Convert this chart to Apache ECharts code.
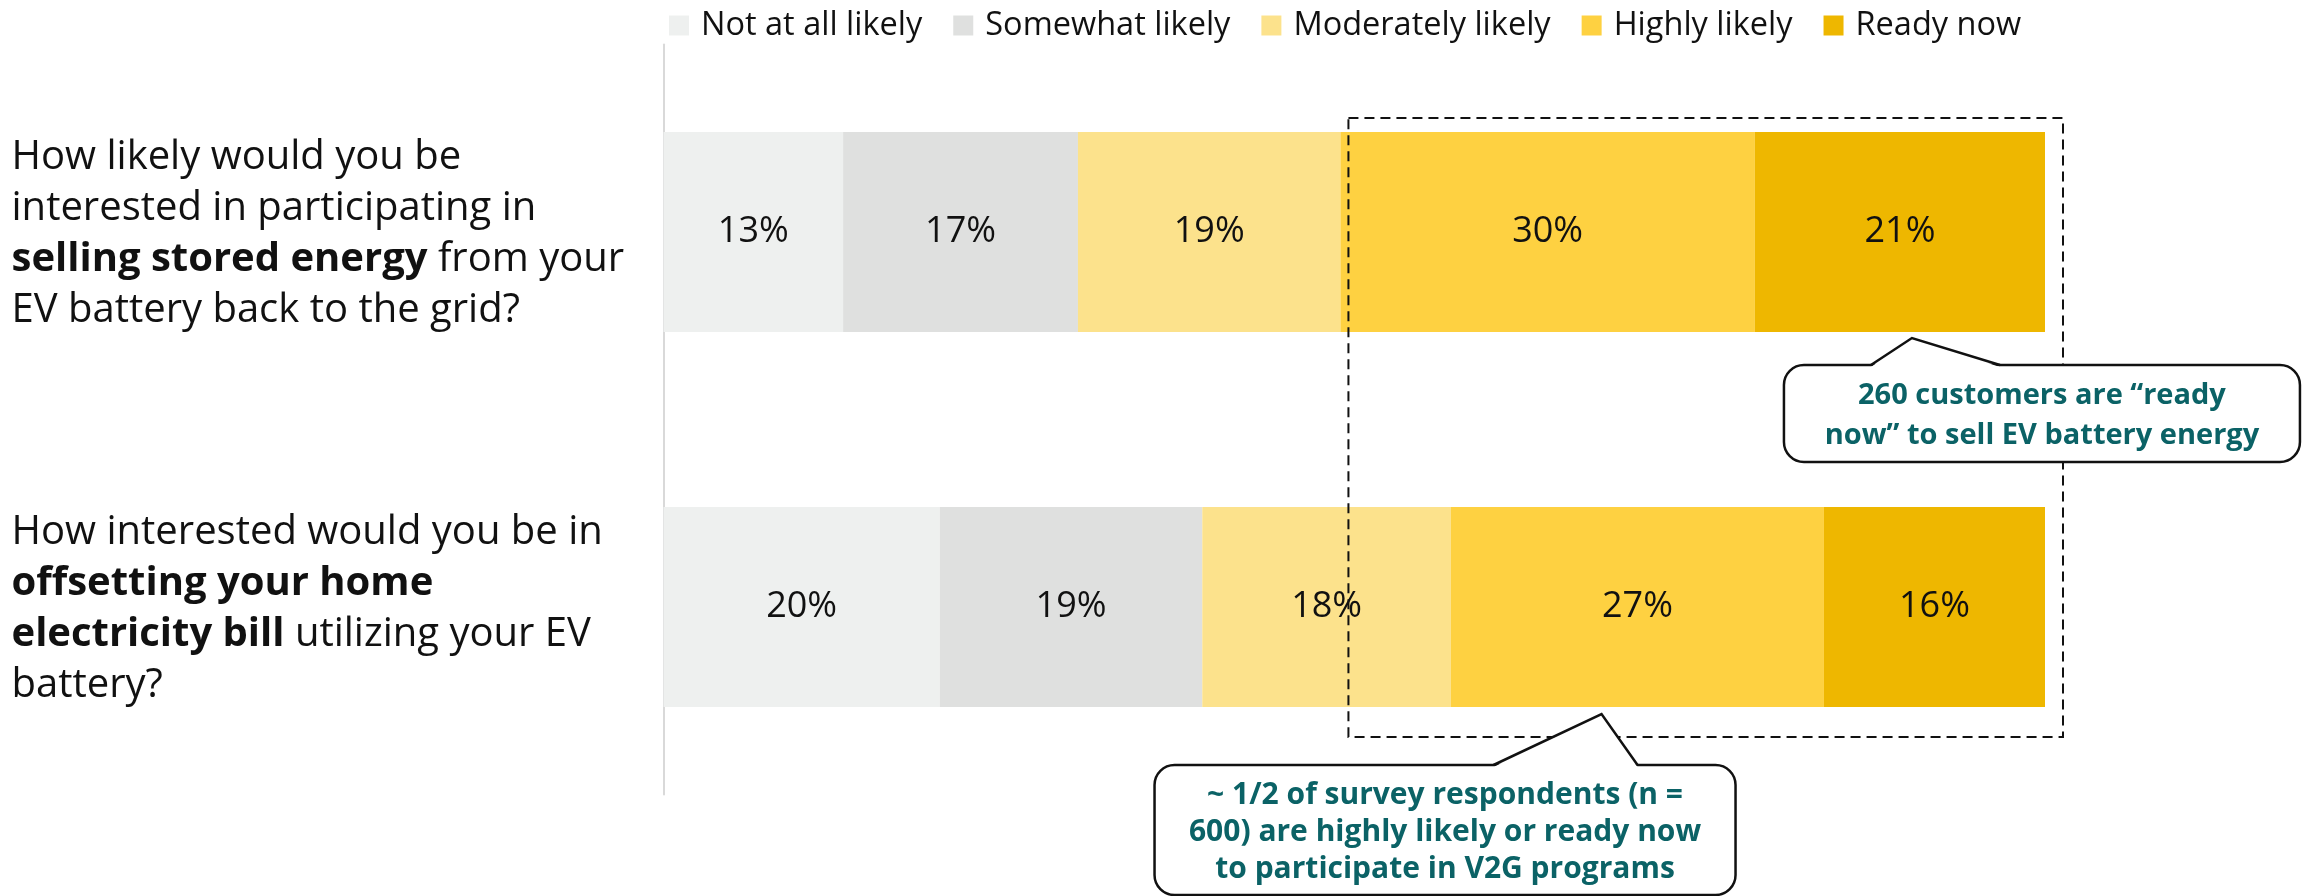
<!DOCTYPE html>
<html><head><meta charset="utf-8">
<script src="https://cdn.jsdelivr.net/npm/echarts@6.0.0/dist/echarts.min.js"></script>
<style>html,body{margin:0;padding:0;background:#fff}#c{width:2306px;height:896px}</style>
</head><body><div id="c"></div>
<script>
const categories = [
  'How likely would you be\ninterested in participating in\n{b|selling stored energy} from your\nEV battery back to the grid?',
  'How interested would you be in\n{b|offsetting your home}\n{b|electricity bill} utilizing your EV\nbattery?'
];
const seriesNames = ['Not at all likely', 'Somewhat likely', 'Moderately likely', 'Highly likely', 'Ready now'];
const notAtAll   = [13, 20];
const somewhat   = [17, 19];
const moderately = [19, 18];
const highly     = [30, 27];
const readyNow   = [21, 16];
const colors = ['#EEF0EF', '#DFE0DF', '#FCE28C', '#FED141', '#EEB700'];
const callout1Text = ['260 customers are \u201cready', 'now\u201d to sell EV battery energy'];
const callout2Text = ['~ 1/2 of survey respondents (n =', '600) are highly likely or ready now', 'to participate in V2G programs'];

const FONT = '"Open Sans", "Noto Sans", sans-serif';
const seriesData = [notAtAll, somewhat, moderately, highly, readyNow];

const chart = echarts.init(document.getElementById('c'), null, {renderer: 'canvas'});
const option = {
  animation: false,
  backgroundColor: '#fff',
  color: colors,
  textStyle: {fontFamily: FONT},
  legend: {
    left: 669, top: 9, padding: 0,
    itemWidth: 20, itemHeight: 20, itemGap: 31,
    icon: 'rect', selectedMode: false,
    textStyle: {fontSize: 32.5, color: '#111', fontFamily: FONT, padding: [0, 0, 0, 7]},
    data: seriesNames
  },
  grid: {left: 663.5, right: 261, top: 44.5, bottom: 101.5, containLabel: false},
  xAxis: {type: 'value', min: 0, max: 100, show: false},
  yAxis: {
    type: 'category', data: categories, inverse: true,
    axisTick: {show: false},
    axisLine: {show: true, lineStyle: {color: '#d9d9d9', width: 2}},
    axisLabel: {
      align: 'left', margin: 652, color: '#111', fontSize: 40, lineHeight: 51, fontFamily: FONT,
      padding: [4, 0, 0, 0],
      rich: {b: {fontWeight: 'bold', fontSize: 40, lineHeight: 51, color: '#111', fontFamily: FONT}}
    }
  },
  series: seriesNames.map((n, i) => ({
    name: n, type: 'bar', stack: 'total', barWidth: 200,
    data: seriesData[i],
    itemStyle: {color: colors[i]},
    label: {show: true, position: 'inside', formatter: '{c}%', color: '#111', fontSize: 36, fontFamily: FONT}
  }))
};
chart.setOption(option);

function px(v, cat) { return chart.convertToPixel({gridIndex: 0}, [v, cat]); }
const half = 100;
const c0 = px(0, 0)[1], c1 = px(0, 1)[1];
const boxL = px(49, 0)[0] + 8, boxR = px(100, 0)[0] + 18;
const boxT = c0 - half - 14, boxB = c1 + half + 30;

function callout(tipX, tipY, left, top, right, bottom, baseL, baseR, lines, lh, fs) {
  return [
    {type: 'rect', z: 100, shape: {x: left, y: top, width: right - left, height: bottom - top, r: 20},
     style: {fill: '#fff', stroke: '#111', lineWidth: 2.5}},
    {type: 'polygon', z: 101, shape: {points: [[baseL, top + 2], [tipX, tipY], [baseR, top + 2]]},
     style: {fill: '#fff', stroke: null}},
    {type: 'polyline', z: 102, shape: {points: [[baseL, top], [tipX, tipY], [baseR, top]]},
     style: {fill: null, stroke: '#111', lineWidth: 2.5}},
    {type: 'text', z: 103, style: {text: lines.join('\n'), x: (left + right) / 2, y: (top + bottom) / 2 + 2,
      align: 'center', verticalAlign: 'middle', fontSize: fs, fontWeight: 'bold', fontFamily: FONT,
      lineHeight: lh, fill: '#0B6266'}}
  ];
}

const t1x = px(89.5, 0)[0] + 12, t1y = c0 + half + 6;
const t2x = px(67.9, 1)[0], t2y = c1 + half + 7;

chart.setOption({
  graphic: [
    {type: 'rect', z: 90, shape: {x: boxL, y: boxT, width: boxR - boxL, height: boxB - boxT},
     style: {fill: null, stroke: '#111', lineWidth: 2, lineDash: [10, 6]}},
    ...callout(t1x, t1y, t1x - 128, c0 + half + 33, t1x + 388, c0 + half + 130, t1x - 41, t1x + 88, callout1Text, 40, 29),
    ...callout(t2x, t2y, t2x - 447, c1 + half + 58, t2x + 134, c1 + half + 188, t2x - 108, t2x + 36, callout2Text, 37, 30)
  ]
});
</script>
</body></html>
